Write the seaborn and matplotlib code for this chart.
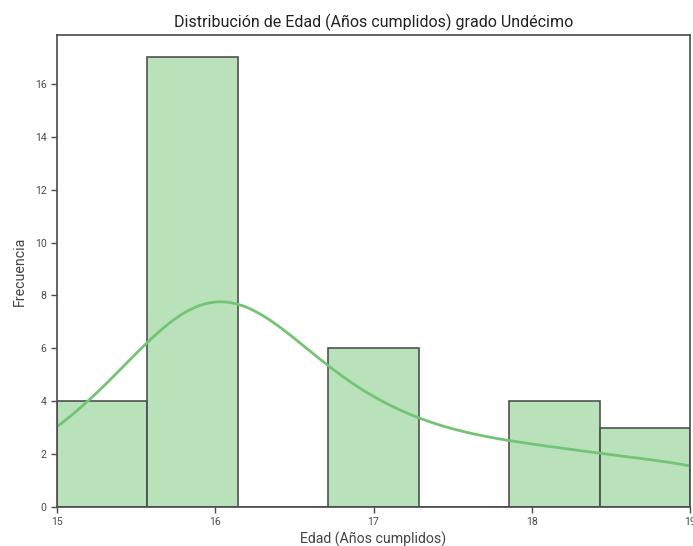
import matplotlib
matplotlib.use("Agg")
import matplotlib.pyplot as plt
import seaborn as sns
import numpy as np
import pandas as pd

# Ages (completed years) and how many students have each
edades = [15, 16, 17, 18, 19]
conteos = [4, 17, 6, 4, 3]

titulo = "Distribución de Edad (Años cumplidos) grado Undécimo"
etiqueta_x = "Edad (Años cumplidos)"
etiqueta_y = "Frecuencia"

df = pd.DataFrame({"Edad": np.repeat(edades, conteos)})

sns.set_style("ticks")
plt.rcParams["font.family"] = ["Roboto", "DejaVu Sans"]
plt.rcParams["axes.edgecolor"] = "#4a4a4a"
plt.rcParams["xtick.color"] = "#4a4a4a"
plt.rcParams["ytick.color"] = "#4a4a4a"
plt.rcParams["axes.labelcolor"] = "#444444"

fig = plt.figure(figsize=(6.93, 5.46), dpi=100)
ax = fig.add_axes([0.0823, 0.0714, 0.9134, 0.8645])

verde = "#74c476"
sns.histplot(data=df, x="Edad", bins=7, kde=True, color=verde, alpha=0.5,
             line_kws={"linewidth": 2}, ax=ax)

# opaque gray outlines on the semi-transparent bars
for p in ax.patches:
    p.set_alpha(None)
    p.set_facecolor((116 / 255, 196 / 255, 118 / 255, 0.5))
    p.set_edgecolor("#505050")
    p.set_linewidth(1.2)

ax.set_xlim(15, 19)
ax.set_xticks(edades)
ax.set_yticks(range(0, 17, 2))
ax.tick_params(labelsize=7.6, length=4.5, width=1, pad=3)
ax.set_title(titulo, fontsize=11.5, color="#222222", pad=6)
ax.set_xlabel(etiqueta_x, fontsize=10.2, labelpad=3)
ax.set_ylabel(etiqueta_y, fontsize=10.2, labelpad=6)
for s in ax.spines.values():
    s.set_linewidth(1.2)

fig.savefig("out.png", dpi=100)
